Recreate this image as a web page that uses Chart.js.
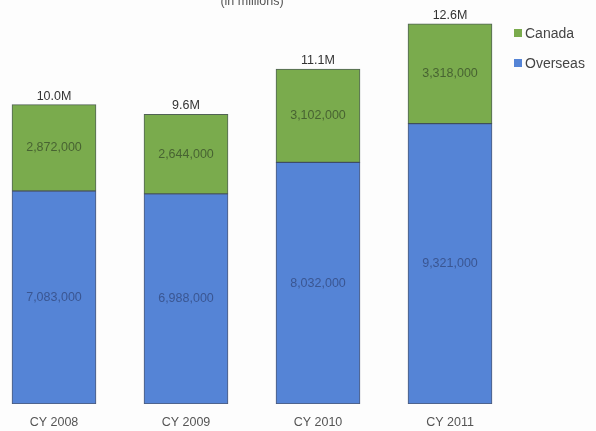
<!DOCTYPE html>
<html>
<head>
<meta charset="utf-8">
<title>Visitors by origin</title>
<script src="https://cdn.jsdelivr.net/npm/chart.js@4.4.1/dist/chart.umd.min.js"></script>
<style>
  html, body { margin: 0; padding: 0; background: #fdfdfd; overflow: hidden; }
  body { width: 596px; height: 431px; position: relative; }
  /* canvas is a bit bigger than the page so the first bar and the title can sit on the edge */
  #wrap { position: absolute; left: -30px; top: -20px; width: 626px; height: 451px; }
</style>
</head>
<body>
<div id="wrap"><canvas id="visitChart"></canvas></div>
<script>
// Visitors per calendar year
const years = ['CY 2008', 'CY 2009', 'CY 2010', 'CY 2011'];
const overseas = [7083000, 6988000, 8032000, 9321000];
const canada = [2872000, 2644000, 3102000, 3318000];
const yMax = 13000000;

const FONT = "'Liberation Sans', Arial, sans-serif";
Chart.defaults.font.family = FONT;

function withCommas(v) {
  return String(v).replace(/\B(?=(\d{3})+(?!\d))/g, ',');
}

// values inside each segment, totals on top, legend on the right
const barLabels = {
  id: 'barLabels',
  afterDatasetsDraw(chart) {
    const ctx = chart.ctx;
    ctx.save();
    ctx.font = '12.5px ' + FONT;
    ctx.textAlign = 'center';
    ctx.textBaseline = 'middle';
    chart.data.datasets.forEach((ds, i) => {
      const meta = chart.getDatasetMeta(i);
      ctx.fillStyle = ds.labelColor;
      meta.data.forEach((bar, j) => {
        ctx.fillText(withCommas(ds.data[j]), bar.x, (bar.y + bar.base) / 2);
      });
    });

    const topMeta = chart.getDatasetMeta(chart.data.datasets.length - 1);
    ctx.fillStyle = '#333';
    ctx.textBaseline = 'alphabetic';
    topMeta.data.forEach((bar, j) => {
      const total = overseas[j] + canada[j];
      ctx.fillText((total / 1e6).toFixed(1) + 'M', bar.x, bar.y - 5);
    });

    // legend (Canada listed first)
    const items = chart.data.datasets.slice().reverse();
    ctx.font = '14px ' + FONT;
    ctx.textAlign = 'left';
    ctx.textBaseline = 'middle';
    items.forEach((ds, k) => {
      const y = 53 + k * 30;
      ctx.fillStyle = ds.backgroundColor;
      ctx.fillRect(544, y - 4, 8, 8);
      ctx.fillStyle = '#444';
      ctx.fillText(ds.label, 555, y + 1);
    });
    ctx.restore();
  }
};

const ctx = document.getElementById('visitChart').getContext('2d');
const visitChart = new Chart(ctx, {
  type: 'bar',
  data: {
    labels: years,
    datasets: [{
      label: 'Overseas',
      data: overseas,
      backgroundColor: '#5584d6',
      borderColor: 'rgba(45,60,95,0.85)',
      labelColor: 'rgba(40,55,100,0.6)',
      borderWidth: 1,
      borderSkipped: false,
      barThickness: 84
    }, {
      label: 'Canada',
      data: canada,
      backgroundColor: '#7aab4d',
      borderColor: 'rgba(50,70,55,0.85)',
      labelColor: 'rgba(45,60,35,0.65)',
      borderWidth: 1,
      borderSkipped: false,
      barThickness: 84
    }]
  },
  options: {
    responsive: true,
    maintainAspectRatio: false,
    animation: false,
    layout: { padding: { left: 18, right: 80, top: 0, bottom: 0 } },
    plugins: {
      legend: { display: false },
      tooltip: { enabled: false },
      title: {
        display: true,
        text: '(in millions)',
        color: '#555',
        font: { size: 12.5, weight: 'normal' },
        padding: { top: 14, bottom: 4 }
      }
    },
    scales: {
      x: {
        stacked: true,
        grid: { display: false, drawTicks: false },
        border: { display: false },
        ticks: { color: '#555', font: { size: 12.5 }, padding: 11, maxRotation: 0 },
        afterFit: (scale) => { scale.height = 27; }
      },
      y: {
        stacked: true,
        display: false,
        min: 0,
        max: yMax
      }
    }
  },
  plugins: [barLabels]
});
</script>
</body>
</html>
